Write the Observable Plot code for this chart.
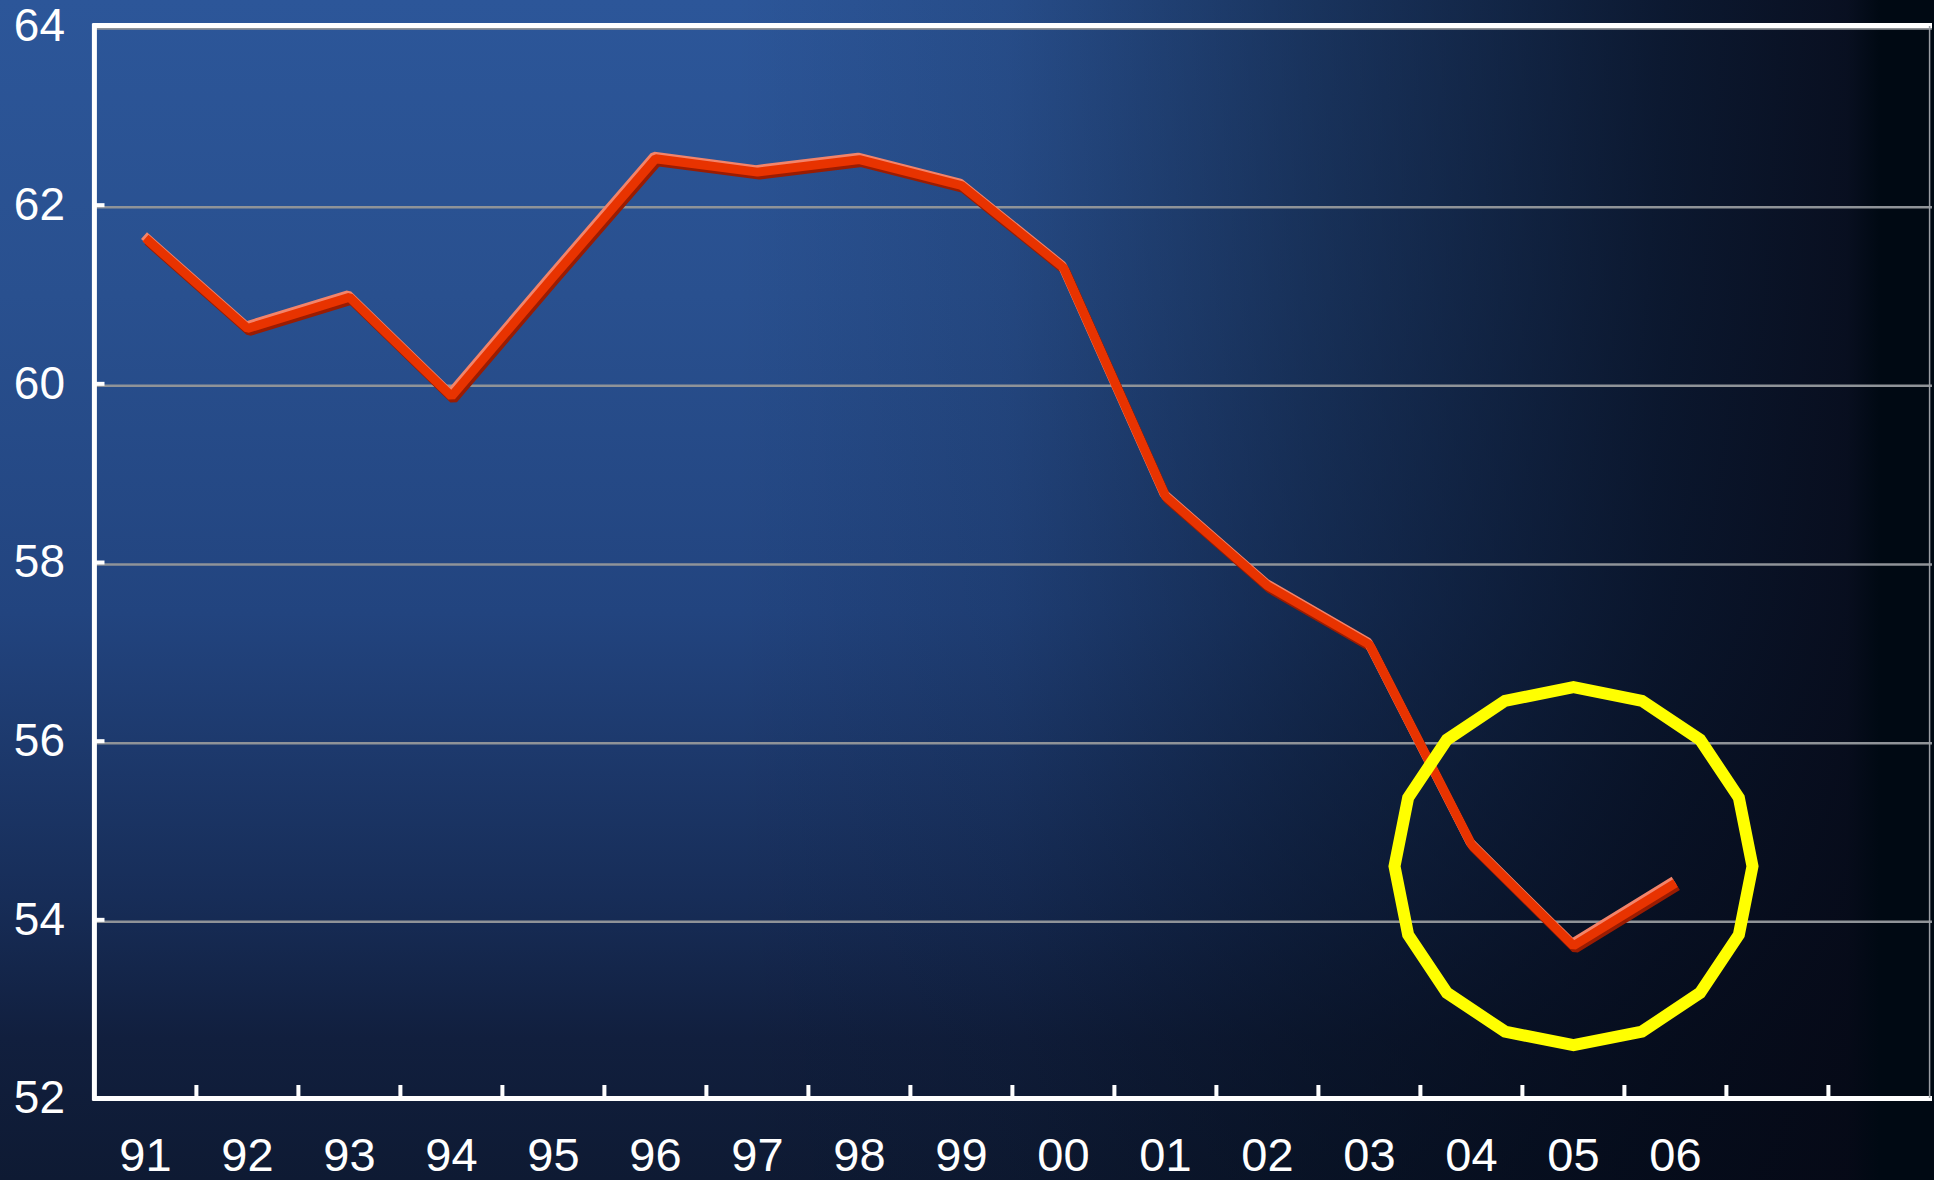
<!DOCTYPE html>
<html>
<head>
<meta charset="utf-8">
<script src="https://cdn.jsdelivr.net/npm/d3@7"></script>
<script src="https://cdn.jsdelivr.net/npm/@observablehq/plot@0.6"></script>
<style>
html, body { margin: 0; padding: 0; }
body {
  width: 1934px; height: 1180px; overflow: hidden;
  background:
    linear-gradient(to right, rgba(2,9,20,0) 0%, rgba(2,9,20,0) 38%, rgba(2,9,20,0.12) 52%, rgba(2,9,20,0.45) 68%, rgba(3,8,20,0.78) 86%, rgba(5,8,20,0.9) 95.5%, rgba(0,9,19,1) 97.2%, rgba(0,9,19,1) 100%),
    linear-gradient(to bottom, #2c5699 0%, #29508f 25%, #22447f 52%, #172d58 76%, #111f3e 88%, #0e1a33 100%);
}
#chart svg { display: block; }
</style>
</head>
<body>
<div id="chart"></div>
<script>
// ---- data ----
const years = ["91","92","93","94","95","96","97","98","99","00","01","02","03","04","05","06"];
const values = [61.63, 60.62, 60.97, 59.86, 61.2, 62.52, 62.37, 62.51, 62.22, 61.30, 58.74, 57.74, 57.08, 54.84, 53.71, 54.41];
const blankSlots = ["b1", "b2"];
const yTicks = [52, 54, 56, 58, 60, 62, 64];
const gridValues = [54, 56, 58, 60, 62, 64];
const highlightYear = ["05"];
const highlightValue = [54.6];

// ---- layout ----
const W = 1934, H = 1180;
const mL = 92.5, mR = 2, mT = 26, mB = 82;
const domain = years.concat(blankSlots);
const step = (W - mL - mR) / domain.length;
const frameH = H - mT - mB;
const frameW = W - mL - mR;

const data = years.map((y, i) => ({year: y, value: values[i]}));
const highlight = highlightYear.map((y, i) => ({year: y, value: highlightValue[i]}));

// 16-sided polygon symbol (the hand-drawn style "circle")
const polygon16 = {
  draw(ctx, size) {
    const r = Math.sqrt(size / Math.PI);
    for (let i = 0; i < 16; i++) {
      const a = -Math.PI / 2 + i * Math.PI / 8;
      const x = r * Math.cos(a), y = r * Math.sin(a);
      if (i) ctx.lineTo(x, y); else ctx.moveTo(x, y);
    }
    ctx.closePath();
  }
};

const lineOpts = {x: "year", y: "value", strokeWidth: 9, strokeLinejoin: "miter", strokeLinecap: "butt"};

const chart = Plot.plot({
  width: W,
  height: H,
  marginLeft: mL,
  marginRight: mR,
  marginTop: mT,
  marginBottom: mB,
  style: {background: "transparent", color: "white", fontFamily: "'Liberation Sans', Arial, sans-serif"},
  x: {type: "point", domain, padding: 0.5, align: 0.5},
  y: {domain: [52, 64]},
  marks: [
    // grid
    Plot.ruleY(gridValues, {y: d => d, stroke: "#8f9398", strokeWidth: 2.5, dy: 2}),
    // inward y ticks
    Plot.tickY(yTicks.slice(1, -1), {y: d => d, stroke: "white", strokeWidth: 4, insetRight: frameW - 12}),
    // inward x ticks at band boundaries
    Plot.tickX(domain.slice(1), {x: d => d, dx: -step / 2, stroke: "white", strokeWidth: 4, insetTop: frameH - 13}),
    // frame: top, bottom, left, right
    Plot.ruleY([64], {stroke: "white", strokeWidth: 5, dy: -1}),
    Plot.ruleY([52], {stroke: "white", strokeWidth: 5}),
    Plot.ruleX([domain[0]], {dx: -step / 2, stroke: "white", strokeWidth: 5, strokeLinecap: "square"}),
    Plot.ruleX([domain[domain.length - 1]], {dx: step / 2 - 1, stroke: "#9a9ea4", strokeWidth: 1.5}),
    // 3D-look line
    Plot.line(data, {...lineOpts, stroke: "#9a1c02", dx: 2, dy: 3}),
    Plot.line(data, {...lineOpts, stroke: "#f3846a", dx: -1.5, dy: -2.5}),
    Plot.line(data, {...lineOpts, stroke: "#e83300"}),
    // highlight circle
    Plot.dot(highlight, {x: "year", y: "value", r: 179, symbol: polygon16, stroke: "#ffff00", strokeWidth: 12, fill: "none", strokeLinejoin: "miter"}),
    // axes labels
    Plot.axisX({tickSize: 0, tickPadding: 39, fontSize: 47, label: null, tickFormat: d => d.startsWith("b") ? "" : d}),
    Plot.axisY({ticks: yTicks, tickSize: 0, tickPadding: 28, fontSize: 46, label: null})
  ]
});
document.getElementById("chart").appendChild(chart);
</script>
</body>
</html>
